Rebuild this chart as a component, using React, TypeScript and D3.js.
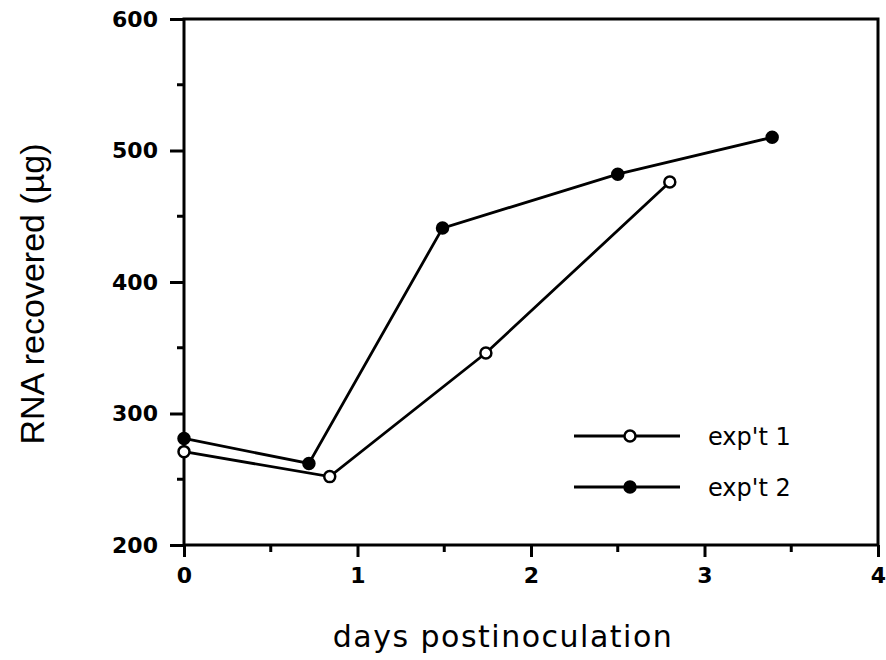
import React, { useEffect, useRef } from 'react';
import * as d3 from 'd3';

// exp't 1 (open circles) and exp't 2 (filled circles)
const days1 = [0, 0.84, 1.74, 2.8];
const rna1 = [271, 252, 346, 476];
const days2 = [0, 0.72, 1.49, 2.5, 3.39];
const rna2 = [281, 262, 441, 482, 510];

const xTicks = [0, 1, 2, 3, 4];
const xMinorTicks = [0.5, 1.5, 2.5, 3.5];
const yTicks = [200, 300, 400, 500, 600];
const yMinorTicks = [250, 350, 450, 550];
const legendLabels = ["exp't 1", "exp't 2"];

export default function App() {
  const ref = useRef<SVGSVGElement>(null);
  const width = 886;
  const height = 660;
  const margin = { top: 19, right: 8, bottom: 115, left: 184 };

  useEffect(() => {
    const svg = d3.select(ref.current);
    svg.selectAll('*').remove();

    const x = d3.scaleLinear().domain([0, 4]).range([margin.left, width - margin.right]);
    const y = d3.scaleLinear().domain([200, 600]).range([height - margin.bottom, margin.top]);
    const stroke = '#000';
    const numFont = '"DejaVu Sans", sans-serif';

    // ------- frame -------
    svg.append('rect')
      .attr('x', x(0)).attr('y', y(600))
      .attr('width', x(4) - x(0)).attr('height', y(200) - y(600))
      .attr('fill', 'none').attr('stroke', stroke).attr('stroke-width', 3);

    // ------- y axis -------
    const yAxis = d3.axisLeft(y).tickValues(yTicks).tickSize(14).tickSizeOuter(0).tickPadding(12)
      .tickFormat(d3.format('d'));
    const gy = svg.append('g').attr('transform', `translate(${x(0)},0)`).call(yAxis);
    gy.select('.domain').remove();
    gy.selectAll('.tick line').attr('stroke-width', 3);
    gy.selectAll('.tick text').attr('font-family', numFont).attr('font-size', 22)
      .attr('font-weight', 'bold').attr('fill', stroke);
    svg.append('g').selectAll('line').data(yMinorTicks).join('line')
      .attr('x1', x(0) - 7).attr('x2', x(0)).attr('y1', d => y(d)).attr('y2', d => y(d))
      .attr('stroke', stroke).attr('stroke-width', 3);

    // ------- x axis -------
    const xAxis = d3.axisBottom(x).tickValues(xTicks).tickSize(12).tickSizeOuter(0).tickPadding(10)
      .tickFormat(d3.format('d'));
    const gx = svg.append('g').attr('transform', `translate(0,${y(200)})`).call(xAxis);
    gx.select('.domain').remove();
    gx.selectAll('.tick line').attr('stroke-width', 3);
    gx.selectAll('.tick text').attr('font-family', numFont).attr('font-size', 22)
      .attr('font-weight', 'bold').attr('fill', stroke);
    svg.append('g').selectAll('line').data(xMinorTicks).join('line')
      .attr('x1', d => x(d)).attr('x2', d => x(d)).attr('y1', y(200)).attr('y2', y(200) + 7)
      .attr('stroke', stroke).attr('stroke-width', 3);

    // ------- axis titles -------
    svg.append('text')
      .attr('x', 503).attr('y', 647)
      .attr('text-anchor', 'middle')
      .attr('font-family', numFont).attr('font-size', 30)
      .attr('letter-spacing', 1.5)
      .text('days postinoculation');

    svg.append('text')
      .attr('transform', `translate(44,294) rotate(-90)`)
      .attr('text-anchor', 'middle')
      .attr('font-family', '"Liberation Sans", Arial, sans-serif').attr('font-size', 34)
      .text('RNA recovered (µg)');

    // ------- series -------
    const line = d3.line<[number, number]>().x(d => x(d[0])).y(d => y(d[1]));
    const series = [
      { days: days1, rna: rna1, fill: '#fff' },
      { days: days2, rna: rna2, fill: '#000' },
    ];
    series.forEach(s => {
      const pts = s.days.map((d, i) => [d, s.rna[i]] as [number, number]);
      svg.append('path').datum(pts)
        .attr('d', line).attr('fill', 'none').attr('stroke', stroke).attr('stroke-width', 2.8);
      svg.append('g').selectAll('circle').data(pts).join('circle')
        .attr('cx', d => x(d[0])).attr('cy', d => y(d[1])).attr('r', 5.5)
        .attr('fill', s.fill).attr('stroke', stroke).attr('stroke-width', 2.5);
    });

    // ------- legend -------
    const legend = svg.append('g');
    legendLabels.forEach((label, i) => {
      const ly = 436 + i * 51;
      legend.append('line').attr('x1', 574).attr('x2', 680).attr('y1', ly).attr('y2', ly)
        .attr('stroke', stroke).attr('stroke-width', 2.8);
      legend.append('circle').attr('cx', 630).attr('cy', ly).attr('r', 5.5)
        .attr('fill', series[i].fill).attr('stroke', stroke).attr('stroke-width', 2.5);
      legend.append('text').attr('x', 708).attr('y', ly + 9)
        .attr('font-family', numFont).attr('font-size', 24)
        .text(label);
    });
  }, []);

  return (
    <svg ref={ref} width={width} height={height}
      style={{ position: 'absolute', left: 0, top: 0, background: '#fff' }} />
  );
}
